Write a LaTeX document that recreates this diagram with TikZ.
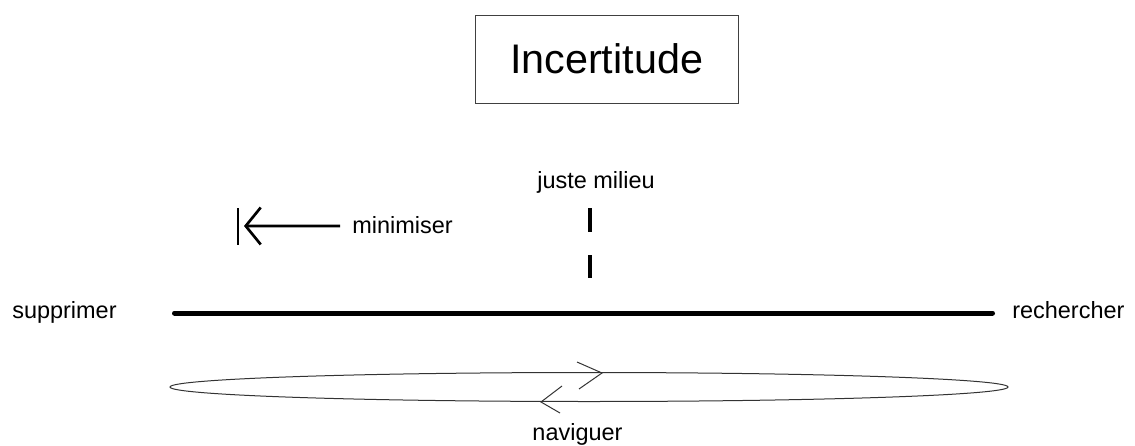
\documentclass[tikz,border=0pt]{standalone}
\usepackage{fontspec}
\setmainfont{Liberation Sans}
\usetikzlibrary{arrows.meta,shapes.geometric}

\begin{document}
\begin{tikzpicture}[x=0.75pt, y=-0.75pt,
    mot/.style={font=\fontsize{17.6}{20}\selectfont, inner sep=0pt},
    titre/.style={draw=black!75, line width=0.75pt, font=\fontsize{31}{36}\selectfont,
        minimum width=197.25pt, minimum height=66pt},
    axe/.style={line width=3.75pt, line cap=round},
    trait/.style={line width=2pt},
    fin/.style={line width=0.75pt, black!80}]
    \useasboundingbox (0,0) rectangle (1135,446);

    % titre
    \node[titre] (incertitude) at (606.5,59) {Incertitude};

    % axe principal
    \node[mot, anchor=base west] (supprimer) at (12,318) {supprimer};
    \node[mot, anchor=base west] (rechercher) at (1012,318) {rechercher};
    \coordinate (gauche) at (174.5,313);
    \coordinate (droite) at (992.5,313);
    \draw[axe] (gauche) -- (droite);

    % juste milieu
    \node[mot, anchor=base] (milieu) at (596,188) {juste milieu};
    \coordinate (haut) at (590,208);
    \coordinate (bas) at (590,278);
    \draw[line width=3pt, dash pattern=on 18pt off 17.25pt] (haut) -- (bas);

    % minimiser
    \node[mot, anchor=base west] (minimiser) at (352,233) {minimiser};
    \coordinate (pointe) at (244,226);
    \draw[trait, -{Straight Barb[length=11.25pt, width=27.75pt]}]
        ([xshift=-9pt, yshift=-1pt]minimiser.west) -- (pointe);
    \draw[trait] (238,208) -- (238,245); % borne

    % naviguer
    \node[fin, draw, ellipse, inner sep=0pt, minimum width=628.5pt, minimum height=21.75pt]
        (boucle) at (589,387) {};
    \draw[fin] (577,362) -- (602,373) -- (579,389);  % aller
    \draw[fin] (562,386) -- (541,402) -- (560,413);  % retour
    \node[mot, anchor=base] (naviguer) at (577.5,440) {naviguer};

\end{tikzpicture}
\end{document}
